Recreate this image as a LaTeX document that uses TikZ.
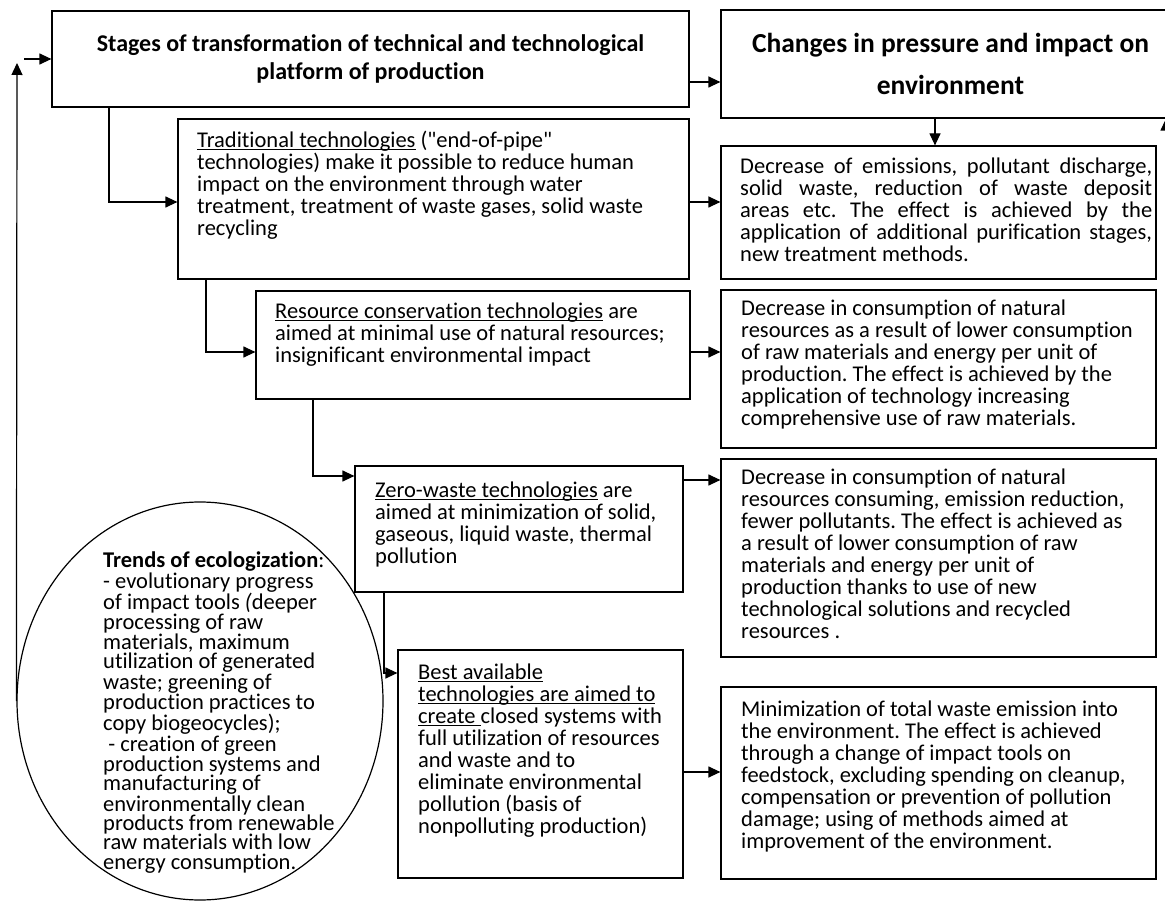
\documentclass[tikz,border=0pt]{standalone}
\usepackage{fontspec}
\setmainfont{Carlito}[Ligatures={TeXOff,NoCommon}]
\usetikzlibrary{arrows.meta,shapes.geometric,calc}
\newcommand\myul[1]{\setbox0\hbox{#1}\rlap{\rule[-2.6pt]{\wd0}{1.1pt}}\box0\relax}
\frenchspacing
\begin{document}
\begin{tikzpicture}[x=1pt,y=-1pt,
  box/.style={draw, line width=1.2pt, inner sep=0pt},
  txt/.style={anchor=north west, inner sep=0pt, align=left, font=\fontsize{22.5}{22}\selectfont},
  arr/.style={line width=1.2pt, -{Triangle[length=12pt,width=11pt]}},
  ttl/.style={box, align=center, font=\bfseries}]
\useasboundingbox (0,0) rectangle (1165,901);
\clip (0,0) rectangle (1165,901);
% title boxes
\node[ttl, minimum width=637pt, minimum height=96pt, font=\bfseries\fontsize{24}{28}\selectfont] (L) at (370.5,59)
  {Stages of transformation of technical and technological\\ platform of production};
\node[ttl, minimum width=459pt, minimum height=108pt, font=\bfseries\fontsize{27.5}{42}\selectfont] (R) at (950.5,64)
  {Changes in pressure and impact on\\ environment};
% left column boxes
\node[box, minimum width=511pt, minimum height=160pt] (T1) at (433.5,199) {};
\node[box, minimum width=434pt, minimum height=108pt] (T2) at (473,345) {};
\node[box, minimum width=328pt, minimum height=126pt] (T3) at (519,529) {};
\node[box, minimum width=285pt, minimum height=228pt] (T4) at (540.5,764) {};
% right column boxes
\node[box, minimum width=435pt, minimum height=133pt] (C1) at (938.5,212.5) {};
\node[box, minimum width=435pt, minimum height=158pt] (C2) at (938.5,369) {};
\node[box, minimum width=435pt, minimum height=198pt] (C3) at (938.5,558) {};
\node[box, minimum width=435pt, minimum height=192pt] (C4) at (938.5,783) {};
% ellipse
\node[draw, ellipse, line width=1.2pt, inner sep=0pt, minimum width=366pt, minimum height=398pt] (E) at (200,701) {};
% texts
\node[txt] (t1) at (197,131) {\myul{Traditional technologies} ("end-of-pipe"\\
  technologies) make it possible to reduce human\\
  impact on the environment through water\\
  treatment, treatment of waste gases, solid waste\\
  recycling};
\node[txt] (t2) at (275,303) {\myul{Resource conservation technologies} are\\
  aimed at minimal use of natural resources;\\
  insignificant environmental impact};
\node[txt] (t3) at (375,482) {\myul{Zero-waste technologies} are\\
  aimed at minimization of solid,\\
  gaseous, liquid waste, thermal\\
  pollution};
\node[txt] (t4) at (418,664) {\myul{Best available}\\
  \myul{technologies are aimed to}\\
  \myul{create\ }closed systems with\\
  full utilization of resources\\
  and waste and to\\
  eliminate environmental\\
  pollution (basis of\\
  nonpolluting production)};
\node[txt] (c1) at (740,158) {\makebox[412pt][s]{Decrease of emissions, pollutant discharge,}\\
  \makebox[412pt][s]{solid waste, reduction of waste deposit}\\
  \makebox[412pt][s]{areas etc. The effect is achieved by the}\\
  \makebox[412pt][s]{application of additional purification stages,}\\
  new treatment methods.};
\node[txt] (c2) at (741,300) {Decrease in consumption of natural\\
  resources as a result of lower consumption\\
  of raw materials and energy per unit of\\
  production. The effect is achieved by the\\
  application of technology increasing\\
  comprehensive use of raw materials.};
\node[txt] (c3) at (741,469) {Decrease in consumption of natural\\
  resources consuming, emission reduction,\\
  fewer pollutants. The effect is achieved as\\
  a result of lower consumption of raw\\
  materials and energy per unit of\\
  production thanks to use of new\\
  technological solutions and recycled\\
  resources .};
\node[txt] (c4) at (741,701) {Minimization of total waste emission into\\
  the environment. The effect is achieved\\
  through a change of impact tools on\\
  feedstock, excluding spending on cleanup,\\
  compensation or prevention of pollution\\
  damage; using of methods aimed at\\
  improvement of the environment.};
\node[txt, font=\fontsize{22.5}{19.3}\selectfont] (te) at (103,552) {\textbf{Trends of ecologization}:\\
  - evolutionary progress\\
  of impact tools \textit{(}deeper\\
  processing of raw\\
  materials, maximum\\
  utilization of generated\\
  waste; greening of\\
  production practices to\\
  copy biogeocycles);\\
  \ - creation of green\\
  production systems and\\
  manufacturing of\\
  environmentally clean\\
  products from renewable\\
  raw materials with low\\
  energy consumption.};
% connector coordinates
\coordinate (y82) at (0,82);
\coordinate (a1) at (109,202);
\coordinate (a2) at (206,352);
\coordinate (a3) at (313,476);
\coordinate (a4) at (384,673);
\coordinate (b1) at (0,202);
\coordinate (b2) at (0,352);
\coordinate (b3) at (0,480);
\coordinate (b4) at (0,772);
\coordinate (b0) at (935,0);
\coordinate (u0) at (1166,150);
\coordinate (f0) at (17,63);
\coordinate (f1) at (24,59);
% connectors
\draw[arr] (L.east |- y82) -- (R.west |- y82);
\draw[arr] (R.south -| b0) -- (C1.north -| b0);
\draw[arr] (u0) -- (R.south -| u0);
\draw[arr] (L.south -| a1) |- (T1.west |- a1);
\draw[arr] (T1.south -| a2) |- (T2.west |- a2);
\draw[arr] (T2.south -| a3) |- (T3.west |- a3);
\draw[arr] (T3.south -| a4) |- (T4.west |- a4);
\draw[arr] (T1.east |- b1) -- (C1.west |- b1);
\draw[arr] (T2.east |- b2) -- (C2.west |- b2);
\draw[arr] (T3.east |- b3) -- (C3.west |- b3);
\draw[arr] (T4.east |- b4) -- (C4.west |- b4);
\draw[arr] (E.west) -- (f0);
\draw[arr] (f1) -- (L.west);
\end{tikzpicture}
\end{document}
